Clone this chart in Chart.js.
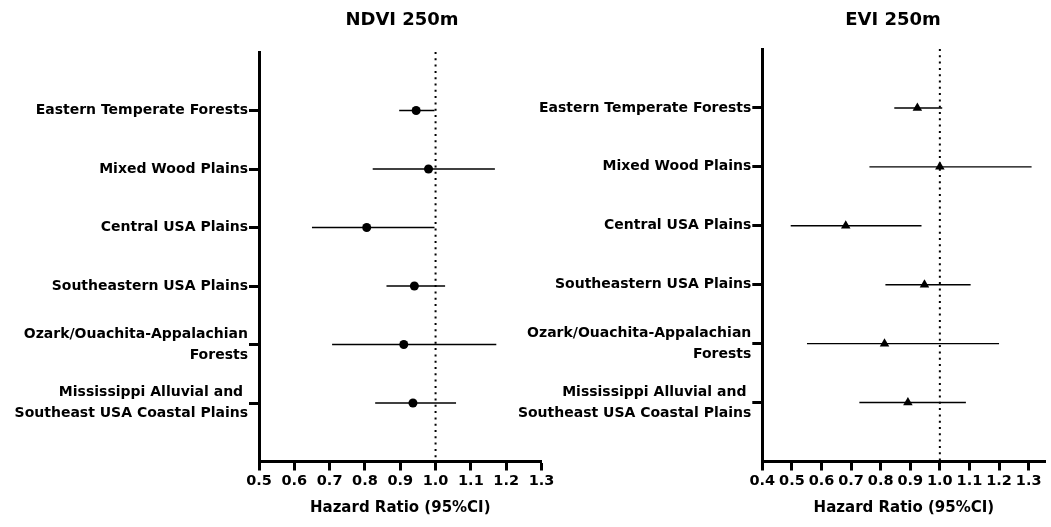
<!DOCTYPE html>
<html><head><meta charset="utf-8">
<script src="https://cdn.jsdelivr.net/npm/chart.js@4/dist/chart.umd.min.js"></script>
<style>
html,body{margin:0;padding:0;background:#fff;width:1051px;height:527px;overflow:hidden;}
#wrap{position:relative;width:1051px;height:527px;}
.box{position:absolute;top:0;height:527px;}
#b1{left:0;width:560px;}
#b2{left:500px;width:551px;}
</style></head><body>
<div id="wrap"><div class="box" id="b1"><canvas id="c1"></canvas></div><div class="box" id="b2"><canvas id="c2"></canvas></div></div>
<script>
const regions = [
  ["Eastern Temperate Forests"],
  ["Mixed Wood Plains"],
  ["Central USA Plains"],
  ["Southeastern USA Plains"],
  ["Ozark/Ouachita-Appalachian", "Forests"],
  ["Mississippi Alluvial and ", "Southeast USA Coastal Plains"]
];
const ndviHR   = [0.945, 0.980, 0.805, 0.940, 0.910, 0.936];
const ndviLow  = [0.897, 0.822, 0.650, 0.861, 0.707, 0.829];
const ndviHigh = [0.997, 1.168, 0.997, 1.027, 1.172, 1.058];
const eviHR    = [0.924, 1.000, 0.682, 0.948, 0.813, 0.892];
const eviLow   = [0.846, 0.762, 0.496, 0.816, 0.551, 0.728];
const eviHigh  = [1.008, 1.310, 0.938, 1.104, 1.200, 1.088];
const ndviTicks = [0.5, 0.6, 0.7, 0.8, 0.9, 1.0, 1.1, 1.2, 1.3];
const eviTicks  = [0.4, 0.5, 0.6, 0.7, 0.8, 0.9, 1.0, 1.1, 1.2, 1.3];
const refValue = 1.0;
const axisTitle = "Hazard Ratio (95%CI)";

const FONT = "'DejaVu Sans', sans-serif";

const panelTitle = {
  id: 'panelTitle',
  afterDraw(chart, args, opts) {
    const ctx = chart.ctx;
    ctx.save();
    ctx.font = 'bold 18px ' + FONT;
    ctx.fillStyle = '#000';
    ctx.textAlign = 'center';
    ctx.textBaseline = 'middle';
    ctx.fillText(opts.text, opts.x, opts.y);
    ctx.restore();
  }
};

function makeChart(id, cfg) {
  const datasets = [];
  cfg.hr.forEach((v, i) => {
    datasets.push({
      data: [{x: cfg.lo[i], y: i + 1}, {x: cfg.hi[i], y: i + 1}],
      showLine: true, borderColor: '#000', borderWidth: 1.4, pointRadius: 0
    });
  });
  datasets.push({
    data: [{x: refValue, y: 0}, {x: refValue, y: 7}],
    showLine: true, borderColor: '#000', borderWidth: 2, borderDash: [2, 4.3], pointRadius: 0
  });
  datasets.push({
    data: cfg.hr.map((v, i) => ({x: v, y: i + 1})),
    pointStyle: cfg.pointStyle, pointRadius: cfg.radius,
    backgroundColor: '#000', borderColor: '#000', borderWidth: 0
  });
  return new Chart(document.getElementById(id), {
    type: 'scatter',
    data: {datasets},
    plugins: [panelTitle],
    options: {
      responsive: true, maintainAspectRatio: false, animation: false,
      layout: {padding: {left: 0, right: cfg.padRight, top: cfg.padTop, bottom: 0}},
      plugins: {
        legend: {display: false}, tooltip: {enabled: false},
        panelTitle: {text: cfg.title, x: cfg.titleX, y: 20}
      },
      scales: {
        x: {
          type: 'linear', min: cfg.xmin, max: cfg.xmax,
          afterBuildTicks: s => { s.ticks = cfg.ticks.map(v => ({value: v})); },
          afterFit: s => { s.height = 65.5; },
          ticks: {
            callback: v => Number(v).toFixed(1),
            font: {family: FONT, weight: 'bold', size: 14.5},
            color: '#000', padding: 2, maxRotation: 0, autoSkip: false
          },
          grid: {drawOnChartArea: false, drawTicks: true, tickLength: 9, tickWidth: 3, tickColor: '#000'},
          border: {display: true, width: 3, color: '#000'},
          title: {display: true, text: axisTitle, color: '#000',
                  font: {family: FONT, weight: 'bold', size: 15}, padding: {top: 4, bottom: 10}}
        },
        y: {
          type: 'linear', min: 0, max: 7, reverse: true,
          afterBuildTicks: s => { s.ticks = regions.map((r, i) => ({value: i + 1})); },
          afterFit: s => { s.width = cfg.yWidth; },
          ticks: {
            callback: v => regions[v - 1],
            font: {family: FONT, weight: 'bold', size: 14, lineHeight: 1.5},
            color: '#000', padding: 1, autoSkip: false
          },
          grid: {drawOnChartArea: false, drawTicks: true, tickLength: 10, tickWidth: 3, tickColor: '#000'},
          border: {display: true, width: 3, color: '#000'}
        }
      }
    }
  });
}

makeChart('c1', {
  title: 'NDVI 250m', titleX: 402, hr: ndviHR, lo: ndviLow, hi: ndviHigh,
  ticks: ndviTicks, xmin: 0.5, xmax: 1.3, pointStyle: 'circle', radius: 4.5,
  yWidth: 259, padRight: 18.5, padTop: 52
});
makeChart('c2', {
  title: 'EVI 250m', titleX: 393, hr: eviHR, lo: eviLow, hi: eviHigh,
  ticks: eviTicks, xmin: 0.4, xmax: 1.357, pointStyle: 'triangle', radius: 5.5,
  yWidth: 262.3, padRight: 4, padTop: 49
});
</script>
</body></html>
